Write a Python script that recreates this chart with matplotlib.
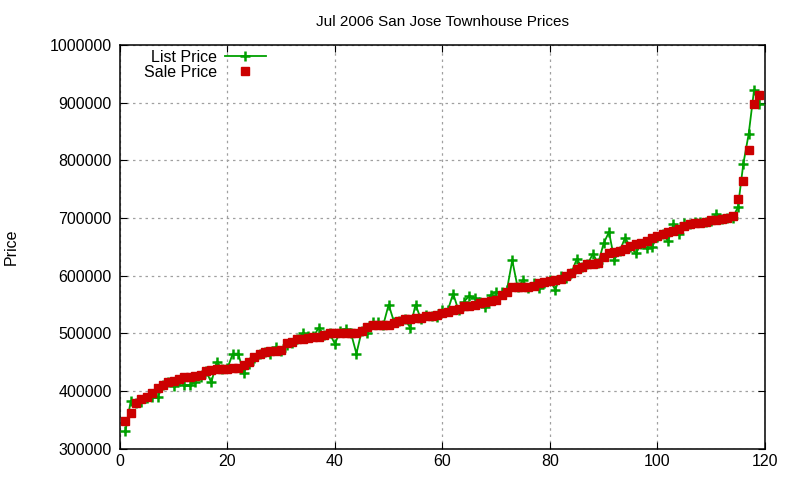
import matplotlib
matplotlib.use("Agg")
import matplotlib.pyplot as plt

plt.rcParams['font.family'] = ['Liberation Sans', 'DejaVu Sans']

# house index 1..119, prices in thousands
house = list(range(1, 120))
sale_k = [348, 362, 379, 386, 390, 396, 405, 410, 415, 418,
          421, 424, 425, 426, 428, 435, 437, 438, 438, 439,
          440, 440, 445, 451, 460, 465, 468, 470, 470, 472,
          483, 485, 491, 491, 492, 493, 494, 497, 500, 500,
          500, 500, 500, 500, 505, 512, 515, 515, 515, 515,
          518, 522, 525, 525, 526, 527, 530, 530, 532, 535,
          538, 541, 542, 547, 548, 550, 552, 555, 556, 558,
          566, 572, 580, 580, 581, 581, 582, 587, 589, 591,
          593, 595, 600, 605, 612, 616, 620, 621, 623, 633,
          639, 641, 643, 647, 651, 655, 657, 661, 665, 669,
          673, 676, 678, 681, 687, 689, 691, 692, 693, 696,
          697, 699, 700, 704, 734, 764, 818, 898, 914]
list_k = [330, 383, 380, 381, 388, 390, 389, 410, 415, 409,
          418, 410, 410, 416, 425, 435, 415, 451, 438, 440,
          465, 465, 432, 447, 458, 465, 468, 465, 477, 470,
          480, 483, 490, 500, 495, 495, 510, 497, 500, 482,
          505, 508, 500, 465, 505, 500, 520, 520, 515, 550,
          520, 522, 525, 510, 550, 525, 532, 530, 528, 540,
          540, 569, 540, 555, 565, 562, 555, 546, 567, 572,
          572, 575, 627, 580, 592, 578, 588, 578, 588, 592,
          576, 600, 597, 605, 629, 615, 620, 638, 622, 656,
          676, 628, 643, 666, 650, 639, 655, 648, 650, 668,
          672, 660, 690, 673, 692, 690, 694, 693, 693, 695,
          708, 698, 700, 700, 719, 794, 846, 922, 898]

sale = [v * 1000 for v in sale_k]
list_price = [v * 1000 for v in list_k]

fig = plt.figure(figsize=(8, 4.8), dpi=100)
ax = fig.add_axes([0.15, 0.065, 0.806, 0.841])

ax.plot(house, list_price, color='#00a000', lw=1.3, marker='+', ms=7.5, mew=1.8,
        label='List Price', zorder=3)
ax.plot(house, sale, ls='none', color='#cc0000', marker='s', ms=6,
        label='Sale Price', zorder=4)

ax.set_xlim(0, 120)
ax.set_ylim(300000, 1000000)
ax.set_xticks(range(0, 121, 20))
ax.set_yticks(range(300000, 1000001, 100000))
ax.ticklabel_format(axis='y', style='plain', useOffset=False)
ax.tick_params(direction='in', top=True, right=True, labelsize=11.5, length=5)
ax.tick_params(axis='y', pad=6)
ax.grid(True, color='#a0a0a0', linestyle=(0, (2, 3)), lw=0.9)
for s in ax.spines.values():
    s.set_linewidth(1.1)

ax.set_title('Jul 2006 San Jose Townhouse Prices', fontsize=11, pad=14)
ax.set_ylabel('Price', fontsize=11.5)
ax.yaxis.set_label_coords(-0.157, 0.5)

ax.legend(loc='upper right', bbox_to_anchor=(279 / 800, 443 / 480),
          bbox_transform=fig.transFigure, frameon=False,
          markerfirst=False, fontsize=11.5, handlelength=2.6,
          labelspacing=0.0, borderpad=0.3, handletextpad=0.5)

fig.savefig('out.png', dpi=100)
